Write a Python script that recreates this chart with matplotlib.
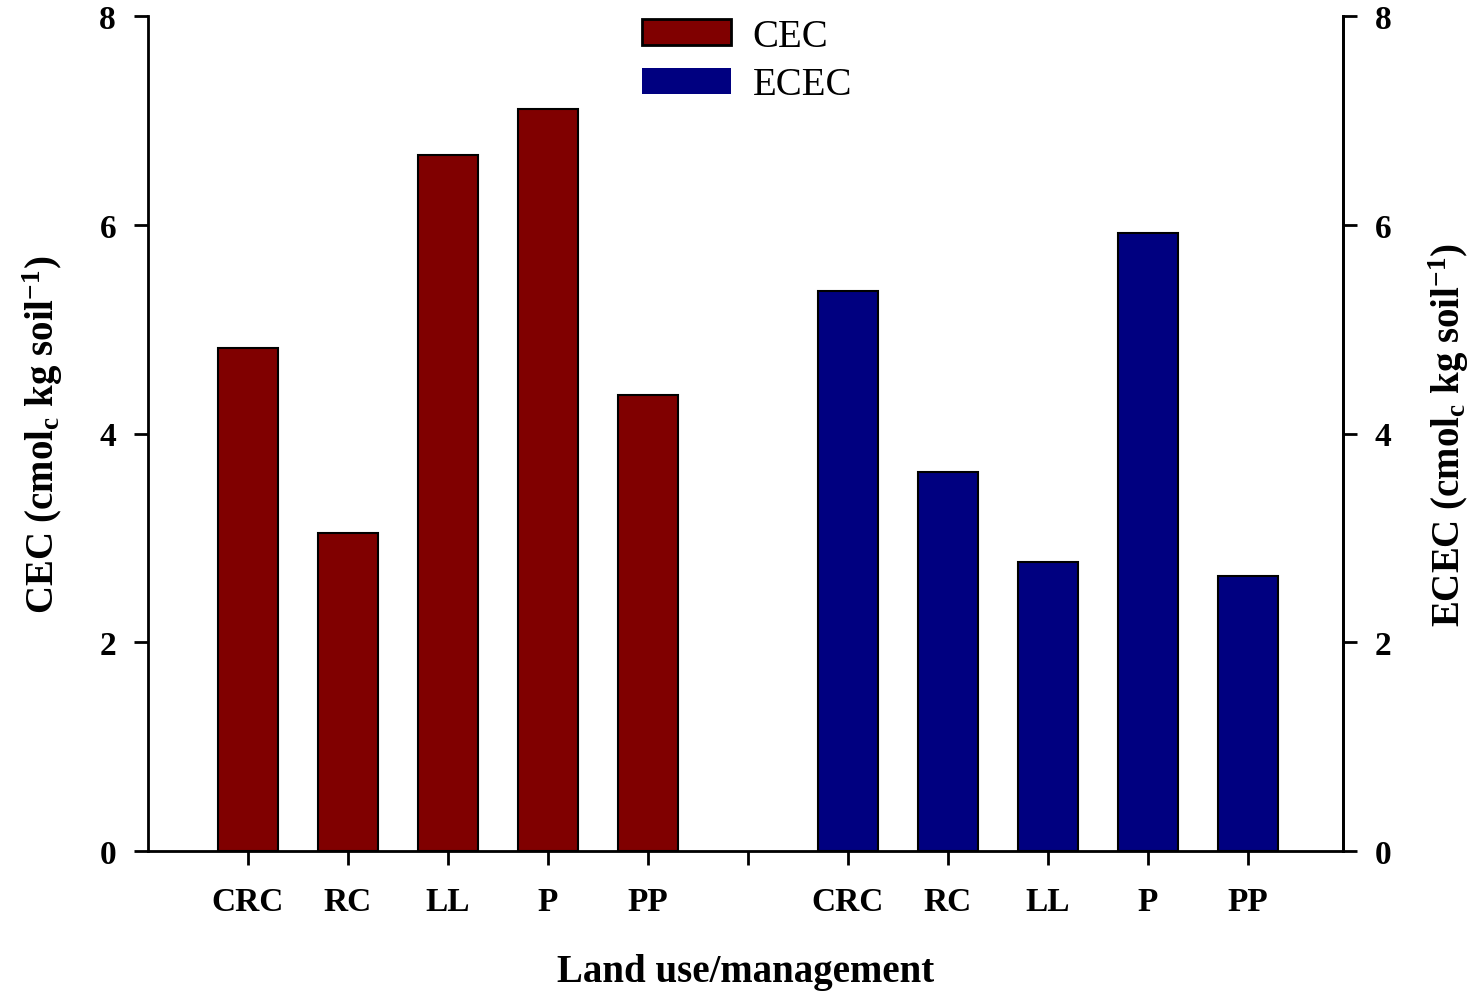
import matplotlib
matplotlib.use("Agg")
import matplotlib.pyplot as plt
from matplotlib.patches import Patch

categories = ["CRC", "RC", "LL", "P", "PP"]
cec = [4.82, 3.05, 6.67, 7.11, 4.37]
ecec = [5.37, 3.63, 2.77, 5.92, 2.63]
yticks = [0, 2, 4, 6, 8]

plt.rcParams['font.family'] = ['Liberation Serif', 'DejaVu Serif']
plt.rcParams['mathtext.fontset'] = 'custom'
plt.rcParams['mathtext.rm'] = 'Liberation Serif:bold'
plt.rcParams['mathtext.bf'] = 'Liberation Serif:bold'
plt.rcParams['mathtext.it'] = 'Liberation Serif:bold'

fig = plt.figure(figsize=(14.76, 9.95), dpi=100)
ax = fig.add_axes([148/1476, 1-852/995, (1343-148)/1476, (852-17)/995])

red = '#800000'
blue = '#000080'
x1 = [1, 2, 3, 4, 5]
x2 = [7, 8, 9, 10, 11]
ax.bar(x1, cec, width=0.6, color=red, edgecolor='black', linewidth=1.5)
ax.bar(x2, ecec, width=0.6, color=blue, edgecolor='black', linewidth=1.5)

ax.set_xlim(0, 11.95)
ax.set_ylim(0, 8)
ax.set_xticks(x1 + [6] + x2)
ax.set_xticklabels(categories + [""] + categories, fontsize=24, fontweight='bold')
ax.set_yticks(yticks)
ax.set_yticklabels([str(v) for v in yticks], fontsize=24, fontweight='bold')
ax.tick_params(axis='x', direction='out', length=10, width=2, pad=15)
ax.tick_params(axis='y', direction='out', length=10, width=2, pad=13)
for s in ['left', 'bottom', 'right']:
    ax.spines[s].set_linewidth(2)
ax.spines['top'].set_visible(False)

ax2 = ax.twinx()
ax2.set_ylim(0, 8)
ax2.set_yticks(yticks)
ax2.set_yticklabels([str(v) for v in yticks], fontsize=24, fontweight='bold')
ax2.tick_params(axis='y', direction='out', length=10, width=2, pad=13)
ax2.spines['top'].set_visible(False)
ax2.spines['right'].set_linewidth(2)

ax.set_xlabel("Land use/management", fontsize=28, fontweight='bold', labelpad=26)
ax.set_ylabel(r"CEC (cmol$_{\mathrm{c}}$ kg soil$^{\mathrm{-1}}$)", fontsize=28, fontweight='bold', labelpad=25)
ax2.set_ylabel(r"ECEC (cmol$_{\mathrm{c}}$ kg soil$^{\mathrm{-1}}$)", fontsize=28, fontweight='bold', labelpad=25)

handles = [Patch(facecolor=red, edgecolor='black', linewidth=2, label='CEC'),
           Patch(facecolor=blue, edgecolor=blue, linewidth=0, label='ECEC')]
ax.legend(handles=handles, loc='upper left', bbox_to_anchor=(0.384, 1.04),
          frameon=False, fontsize=28, handlelength=2.3, handleheight=0.65,
          handletextpad=0.55, labelspacing=0.3)

fig.savefig("out.png", dpi=100)
